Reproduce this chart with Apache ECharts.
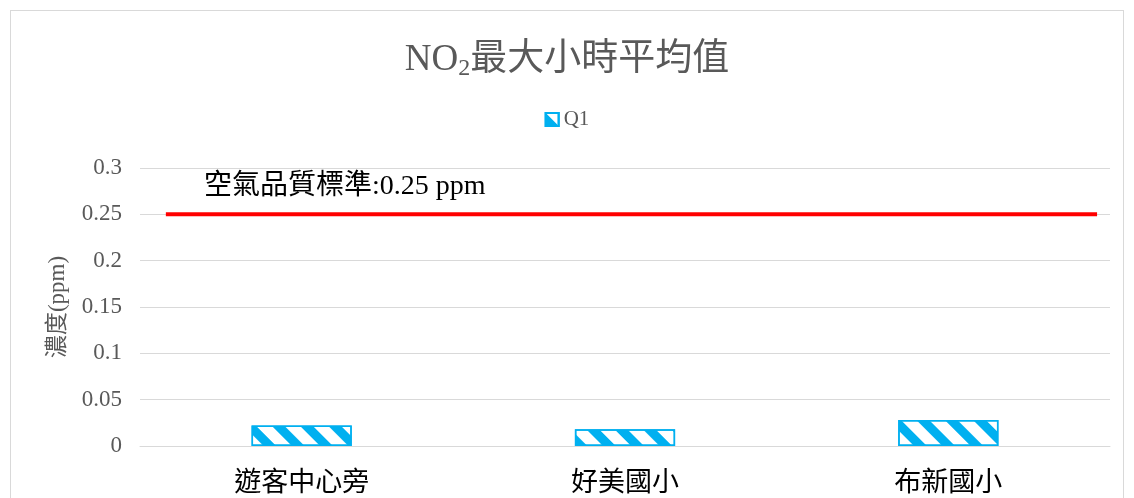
<!DOCTYPE html>
<html><head><meta charset="utf-8">
<script src="https://cdn.jsdelivr.net/npm/echarts@6/dist/echarts.min.js"></script>
<style>
html,body{margin:0;padding:0;background:#fff;}
#frame{position:absolute;left:10px;top:10px;width:1114px;height:500px;border:1px solid #d9d9d9;box-sizing:border-box;}
#c{position:absolute;left:0;top:0;width:1134px;height:498px;}
</style></head>
<body><div id="frame"></div><div id="c"></div>
<script>
const categories = ['遊客中心旁', '好美國小', '布新國小'];
const q1Values = [0.022, 0.018, 0.028];
const standardValue = 0.25;
const yTicks = [0, 0.05, 0.1, 0.15, 0.2, 0.25, 0.3];

const serif = '"Liberation Serif","Noto Sans CJK TC",serif';
const chart = echarts.init(document.getElementById('c'));
chart.setOption({
  animation: false,
  title: {
    text: '{a|NO}{s|2}{a|最大小時平均值}',
    left: 'center', top: 34,
    textStyle: {
      fontWeight: 'normal',
      rich: {
        a: {fontFamily: serif, fontSize: 37, color: '#595959', fontWeight: 'normal'},
        s: {fontFamily: serif, fontSize: 24, color: '#595959', fontWeight: 'normal', padding: [18, 0, 0, 0]}
      }
    }
  },
  legend: {
    top: 104, left: 'center',
    icon: 'rect',
    itemWidth: 13, itemHeight: 13, itemGap: 6,
    textStyle: {fontFamily: serif, fontSize: 21, color: '#595959'},
    data: ['Q1']
  },
  grid: {left: 140, right: 24, top: 168, bottom: 52},
  xAxis: [{
    type: 'category', data: categories,
    axisLine: {lineStyle: {color: '#d9d9d9'}},
    axisTick: {show: false},
    axisLabel: {fontFamily: serif, fontSize: 27, color: '#000', margin: 24}
  }, {
    type: 'value', min: -0.5, max: 2.5, show: false
  }],
  yAxis: {
    type: 'value', min: 0, max: 0.3, interval: 0.05,
    name: '濃度(ppm)', nameLocation: 'middle', nameGap: 71,
    nameTextStyle: {fontFamily: serif, fontSize: 23, color: '#595959'},
    axisLine: {show: false}, axisTick: {show: false},
    axisLabel: {fontFamily: serif, fontSize: 23, color: '#595959', margin: 18,
      formatter: v => String(+v.toFixed(2))},
    splitLine: {lineStyle: {color: '#d9d9d9'}}
  },
  series: [{
    name: 'Q1', type: 'bar', data: q1Values, barWidth: '31%',
    itemStyle: {
      color: '#fff', borderColor: '#00b0f0', borderWidth: 1.5,
      decal: {symbol: 'rect', color: '#00b0f0', dashArrayX: [1, 0], dashArrayY: [9, 11], rotation: Math.PI / 4, symbolSize: 1}
    }
  }, {
    name: 'std', type: 'line', xAxisIndex: 1,
    data: [[-0.42, standardValue], [2.46, standardValue]],
    symbol: 'none', lineStyle: {color: '#ff0000', width: 4},
    silent: true
  }],
  graphic: [{
    type: 'text', left: 204, top: 173,
    style: {text: '空氣品質標準:' + standardValue + ' ppm', font: '28px ' + serif, fill: '#000'}
  }]
});
</script></body></html>
